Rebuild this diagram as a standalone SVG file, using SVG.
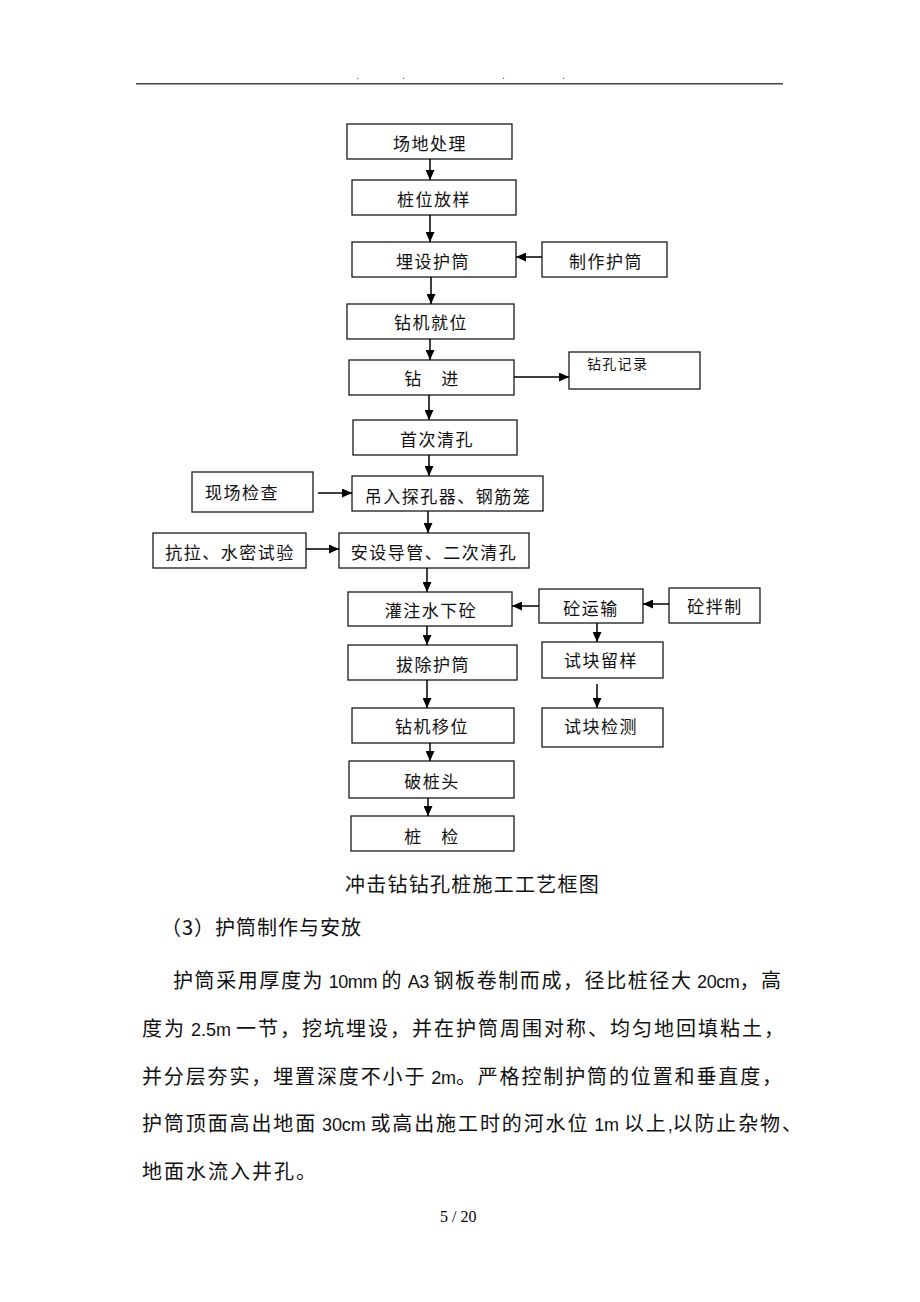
<svg xmlns="http://www.w3.org/2000/svg" width="920" height="1302" viewBox="0 0 920 1302">
<style>
.bg{fill:#fff}
.box{fill:#fff;stroke:#1a1a1a;stroke-width:1.3}
.lbl{font-family:"Noto Sans CJK SC",sans-serif;font-size:17px;fill:#111;text-anchor:middle;letter-spacing:1.5px}
.sm{font-family:"Noto Sans CJK SC",sans-serif;font-size:14px;fill:#111;letter-spacing:1.3px}
.con{stroke:#000;stroke-width:1.5;fill:none}
.body{font-family:"Noto Sans CJK SC",sans-serif;font-size:20px;fill:#111;letter-spacing:2px}
.lat{font-family:"Liberation Sans Narrow","Liberation Sans",sans-serif;font-size:18px;letter-spacing:0}
.hdr{stroke:#444;stroke-width:1.4}
.dot{font-family:"Liberation Sans",sans-serif;font-size:10px;fill:#333}
.pg{font-family:"Liberation Serif",serif;font-size:16px;fill:#000}
</style>
<defs>
<marker id="ah" markerUnits="userSpaceOnUse" markerWidth="10" markerHeight="9" refX="10" refY="4.5" orient="auto">
<path d="M0,0 L10,4.5 L0,9 z" fill="#000"/>
</marker>
</defs>
<rect class="bg" x="0" y="0" width="920" height="1302"/>

<g id="header">
<line class="hdr" x1="136" y1="83.7" x2="783" y2="83.7"/>
<text class="dot" x="356" y="79">.</text>
<text class="dot" x="402" y="79">.</text>
<text class="dot" x="502" y="79">.</text>
<text class="dot" x="562" y="79">.</text>
</g>

<g id="n1"><rect class="box" x="347" y="124" width="165" height="35"/><text class="lbl" x="430" y="150">场地处理</text></g>
<g id="n2"><rect class="box" x="352" y="180" width="164" height="35"/><text class="lbl" x="434" y="206">桩位放样</text></g>
<g id="n3"><rect class="box" x="352" y="242" width="164" height="35"/><text class="lbl" x="433" y="268">埋设护筒</text></g>
<g id="n4"><rect class="box" x="542" y="242" width="125" height="35"/><text class="lbl" x="606" y="268">制作护筒</text></g>
<g id="n5"><rect class="box" x="347" y="304" width="167" height="35"/><text class="lbl" x="431" y="329">钻机就位</text></g>
<g id="n6"><rect class="box" x="349" y="360" width="165" height="35"/><text class="lbl" x="432" y="385">钻　进</text></g>
<g id="n7"><rect class="box" x="569" y="352" width="131" height="37"/><text class="sm" x="587" y="369">钻孔记录</text></g>
<g id="n8"><rect class="box" x="353" y="420" width="164" height="35"/><text class="lbl" x="437" y="446">首次清孔</text></g>
<g id="n9"><rect class="box" x="352" y="476" width="191" height="35"/><text class="lbl" x="448" y="503">吊入探孔器、钢筋笼</text></g>
<g id="n10"><rect class="box" x="192" y="472" width="121" height="40"/><text class="lbl" x="242" y="499">现场检查</text></g>
<g id="n11"><rect class="box" x="339" y="533" width="190" height="35"/><text class="lbl" x="434" y="559">安设导管、二次清孔</text></g>
<g id="n12"><rect class="box" x="153" y="533" width="153" height="35"/><text class="lbl" x="230" y="559">抗拉、水密试验</text></g>
<g id="n13"><rect class="box" x="348" y="592" width="164" height="34"/><text class="lbl" x="431" y="617">灌注水下砼</text></g>
<g id="n14"><rect class="box" x="539" y="589" width="104" height="34"/><text class="lbl" x="591" y="615">砼运输</text></g>
<g id="n15"><rect class="box" x="669" y="588" width="91" height="35"/><text class="lbl" x="715" y="613">砼拌制</text></g>
<g id="n16"><rect class="box" x="542" y="642" width="121" height="36"/><text class="lbl" x="601" y="667">试块留样</text></g>
<g id="n17"><rect class="box" x="542" y="708" width="121" height="39"/><text class="lbl" x="601" y="733">试块检测</text></g>
<g id="n18"><rect class="box" x="348" y="645" width="169" height="35"/><text class="lbl" x="433" y="671">拔除护筒</text></g>
<g id="n19"><rect class="box" x="352" y="708" width="162" height="35"/><text class="lbl" x="432" y="733">钻机移位</text></g>
<g id="n20"><rect class="box" x="349" y="761" width="165" height="37"/><text class="lbl" x="432" y="788">破桩头</text></g>
<g id="n21"><rect class="box" x="351" y="816" width="163" height="35"/><text class="lbl" x="432" y="843">桩　检</text></g>

<g id="connectors">
<line class="con" x1="430" y1="159" x2="430" y2="180" marker-end="url(#ah)"/>
<line class="con" x1="430" y1="215" x2="430" y2="242" marker-end="url(#ah)"/>
<line class="con" x1="431" y1="277" x2="431" y2="304" marker-end="url(#ah)"/>
<line class="con" x1="430" y1="339" x2="430" y2="360" marker-end="url(#ah)"/>
<line class="con" x1="429" y1="395" x2="429" y2="420" marker-end="url(#ah)"/>
<line class="con" x1="429" y1="455" x2="429" y2="476" marker-end="url(#ah)"/>
<line class="con" x1="428" y1="511" x2="428" y2="533" marker-end="url(#ah)"/>
<line class="con" x1="427" y1="568" x2="427" y2="592" marker-end="url(#ah)"/>
<line class="con" x1="427" y1="626" x2="427" y2="645" marker-end="url(#ah)"/>
<line class="con" x1="427" y1="680" x2="427" y2="708" marker-end="url(#ah)"/>
<line class="con" x1="430" y1="743" x2="430" y2="761" marker-end="url(#ah)"/>
<line class="con" x1="428" y1="798" x2="428" y2="816" marker-end="url(#ah)"/>
<line class="con" x1="597" y1="623" x2="597" y2="642" marker-end="url(#ah)"/>
<line class="con" x1="597" y1="684" x2="597" y2="708" marker-end="url(#ah)"/>
<line class="con" x1="542" y1="257" x2="516" y2="257" marker-end="url(#ah)"/>
<line class="con" x1="514" y1="377" x2="569" y2="377" marker-end="url(#ah)"/>
<line class="con" x1="318" y1="493" x2="352" y2="493" marker-end="url(#ah)"/>
<line class="con" x1="306" y1="549" x2="339" y2="549" marker-end="url(#ah)"/>
<line class="con" x1="539" y1="606" x2="512" y2="606" marker-end="url(#ah)"/>
<line class="con" x1="669" y1="604" x2="643" y2="604" marker-end="url(#ah)"/>
</g>

<g id="caption">
<text class="body" x="345" y="892" style="letter-spacing:1.25px">冲击钻钻孔桩施工工艺框图</text>
<text class="body" x="161" y="935" style="letter-spacing:1px">（3）护筒制作与安放</text>
</g>

<g id="paragraph">
<text class="body" x="173" y="988" textLength="610" lengthAdjust="spacing">护筒采用厚度为<tspan class="lat"> 10mm </tspan>的<tspan class="lat"> A3 </tspan>钢板卷制而成，径比桩径大<tspan class="lat"> 20cm</tspan>，高</text>
<text class="body" x="142" y="1036" textLength="644" lengthAdjust="spacing">度为<tspan class="lat"> 2.5m </tspan>一节，挖坑埋设，并在护筒周围对称、均匀地回填粘土，</text>
<text class="body" x="142" y="1084" textLength="642" lengthAdjust="spacing">并分层夯实，埋置深度不小于<tspan class="lat"> 2m</tspan>。严格控制护筒的位置和垂直度，</text>
<text class="body" x="142" y="1131" textLength="662" lengthAdjust="spacing">护筒顶面高出地面<tspan class="lat"> 30cm </tspan>或高出施工时的河水位<tspan class="lat"> 1m </tspan>以上<tspan class="lat">,</tspan>以防止杂物、</text>
<text class="body" x="142" y="1179">地面水流入井孔。</text>
</g>

<g id="footer">
<text class="pg" x="440" y="1222">5 / 20</text>
</g>
</svg>
